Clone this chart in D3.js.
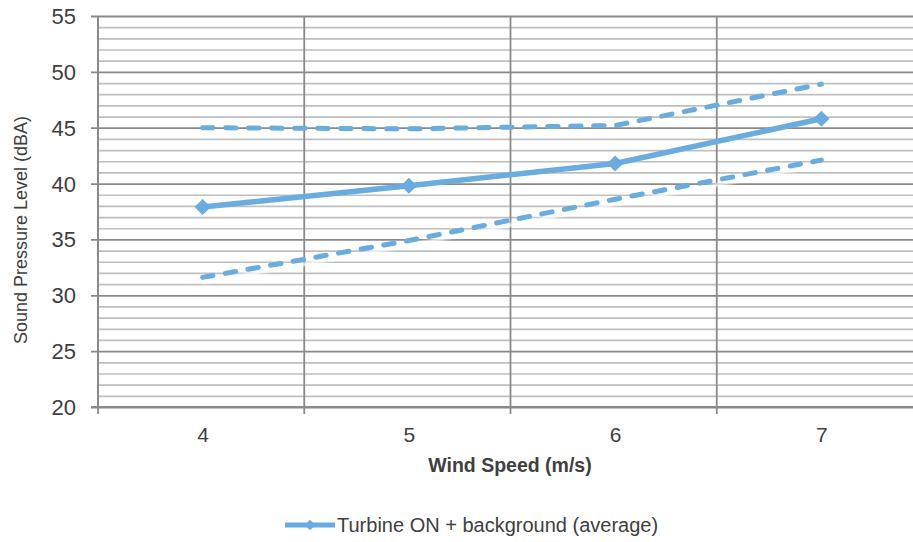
<!DOCTYPE html>
<html>
<head>
<meta charset="utf-8">
<script src="https://cdn.jsdelivr.net/npm/d3@7"></script>
<style>
  html, body { margin: 0; padding: 0; background: #fff; }
  svg { display: block; }
  text { font-family: "Liberation Sans", Arial, sans-serif; fill: #404040; }
</style>
</head>
<body>
<svg id="chart" width="913" height="542"></svg>
<script>
// Wind speed categories (m/s)
const windSpeeds = [4, 5, 6, 7];
// Average sound pressure level, turbine ON + background (dBA)
const averageLevel = [37.9, 39.8, 41.8, 45.8];
// Upper and lower bounds around the average (dBA)
const upperLevel = [45.0, 44.9, 45.2, 48.9];
const lowerLevel = [31.6, 34.9, 38.6, 42.1];
// Y axis ticks
const yMajorTicks = [20, 25, 30, 35, 40, 45, 50, 55];
const yMinorTicks = d3.range(20, 56, 1);

const seriesName = "Turbine ON + background (average)";
const xTitle = "Wind Speed (m/s)";
const yTitle = "Sound Pressure Level (dBA)";

const blue = "#68ace0";
const svg = d3.select("#chart");

const plotLeft = 98, plotTop = 16, plotBottom = 407, plotRight = 923;

const x = d3.scaleBand().domain(windSpeeds).range([plotLeft, plotRight]).padding(0);
const y = d3.scaleLinear().domain([20, 55]).range([plotBottom, plotTop]);

const plot = svg.append("g");

// minor horizontal gridlines
plot.append("g")
  .attr("transform", `translate(${plotLeft},0)`)
  .call(d3.axisLeft(y).tickValues(yMinorTicks.filter(v => v % 5 !== 0)).tickSize(-(plotRight - plotLeft)).tickFormat(""))
  .call(g => g.select(".domain").remove())
  .call(g => g.selectAll("line").attr("stroke", "#bfbfbf").attr("stroke-width", 1.7));

// major horizontal gridlines with outside ticks
plot.append("g")
  .attr("transform", `translate(${plotLeft},0)`)
  .call(d3.axisLeft(y).tickValues(yMajorTicks).tickSize(-(plotRight - plotLeft)).tickFormat(""))
  .call(g => g.select(".domain").remove())
  .call(g => g.selectAll("line").attr("stroke", "#8a8a8a").attr("stroke-width", 1.8).attr("x1", -7));

// vertical gridlines at category boundaries
const boundaries = windSpeeds.map(d => x(d)).concat([plotRight]);
plot.append("g").selectAll("line")
  .data(boundaries)
  .join("line")
  .attr("x1", d => d).attr("x2", d => d)
  .attr("y1", plotTop).attr("y2", plotBottom + 7)
  .attr("stroke", "#8a8a8a").attr("stroke-width", 1.8);

// y tick labels
plot.append("g")
  .attr("transform", `translate(${plotLeft},0)`)
  .call(d3.axisLeft(y).tickValues(yMajorTicks).tickSize(0).tickPadding(22).tickFormat(d3.format("d")))
  .call(g => g.select(".domain").remove())
  .call(g => g.selectAll("text").attr("font-size", 22).attr("fill", "#3a3a3a")
    .attr("font-family", "'Liberation Sans', Arial, sans-serif").attr("dy", "0.34em"));

// x tick labels
plot.append("g")
  .attr("transform", `translate(2,${plotBottom})`)
  .call(d3.axisBottom(x).tickSize(0).tickPadding(20))
  .call(g => g.select(".domain").remove())
  .call(g => g.selectAll("text").attr("font-size", 21).attr("fill", "#3a3a3a")
    .attr("font-family", "'Liberation Sans', Arial, sans-serif"));

// axis lines
plot.append("line").attr("x1", plotLeft).attr("x2", plotLeft).attr("y1", plotTop).attr("y2", plotBottom)
  .attr("stroke", "#8a8a8a").attr("stroke-width", 2);
plot.append("line").attr("x1", plotLeft - 7).attr("x2", plotRight).attr("y1", plotBottom).attr("y2", plotBottom)
  .attr("stroke", "#8a8a8a").attr("stroke-width", 2);

const cx = d => x(d) + x.bandwidth() / 2 + 1.5;
const line = d3.line().x(d => cx(d[0])).y(d => y(d[1]));
const pairs = vals => windSpeeds.map((w, i) => [w, vals[i]]);

// soft white shadow under the lower bound
const defs = svg.append("defs");
defs.append("filter").attr("id", "soft").append("feGaussianBlur").attr("stdDeviation", 1.2);
plot.append("path")
  .datum(pairs(lowerLevel))
  .attr("d", line)
  .attr("transform", "translate(0,5)")
  .attr("fill", "none").attr("stroke", "#ffffff").attr("stroke-width", 3)
  .attr("filter", "url(#soft)").attr("opacity", 0.9);

// dashed bounds
[upperLevel, lowerLevel].forEach(vals => {
  plot.append("path")
    .datum(pairs(vals))
    .attr("d", line)
    .attr("fill", "none")
    .attr("stroke", blue)
    .attr("stroke-width", 5)
    .attr("stroke-linecap", "round")
    .attr("stroke-dasharray", "10.5,12.5");
});

// average line
plot.append("path")
  .datum(pairs(averageLevel))
  .attr("d", line)
  .attr("fill", "none")
  .attr("stroke", blue)
  .attr("stroke-width", 5.5)
  .attr("stroke-linejoin", "round");

const diamond = d3.symbol().type(d3.symbolSquare).size(130);
plot.append("g").selectAll("path")
  .data(pairs(averageLevel))
  .join("path")
  .attr("d", diamond)
  .attr("transform", d => `translate(${cx(d[0])},${y(d[1])}) rotate(45)`)
  .attr("fill", blue);

// axis titles
svg.append("text")
  .attr("transform", `translate(27,230) rotate(-90)`)
  .attr("text-anchor", "middle")
  .attr("font-size", 18)
  .attr("fill", "#333")
  .text(yTitle);

svg.append("text")
  .attr("x", 510)
  .attr("y", 472)
  .attr("text-anchor", "middle")
  .attr("font-size", 19.5)
  .attr("font-weight", "bold")
  .attr("fill", "#111")
  .text(xTitle);

// legend
const lg = svg.append("g").attr("transform", "translate(285,525)");
lg.append("line").attr("x1", 0).attr("x2", 50).attr("y1", 0).attr("y2", 0)
  .attr("stroke", blue).attr("stroke-width", 5);
lg.append("path").attr("d", d3.symbol().type(d3.symbolSquare).size(55)())
  .attr("transform", "translate(25,0) rotate(45)").attr("fill", blue);
lg.append("text").attr("x", 52).attr("y", 0).attr("dy", "0.35em")
  .attr("font-size", 20)
  .attr("fill", "#262626")
  .text(seriesName);
</script>
</body>
</html>
